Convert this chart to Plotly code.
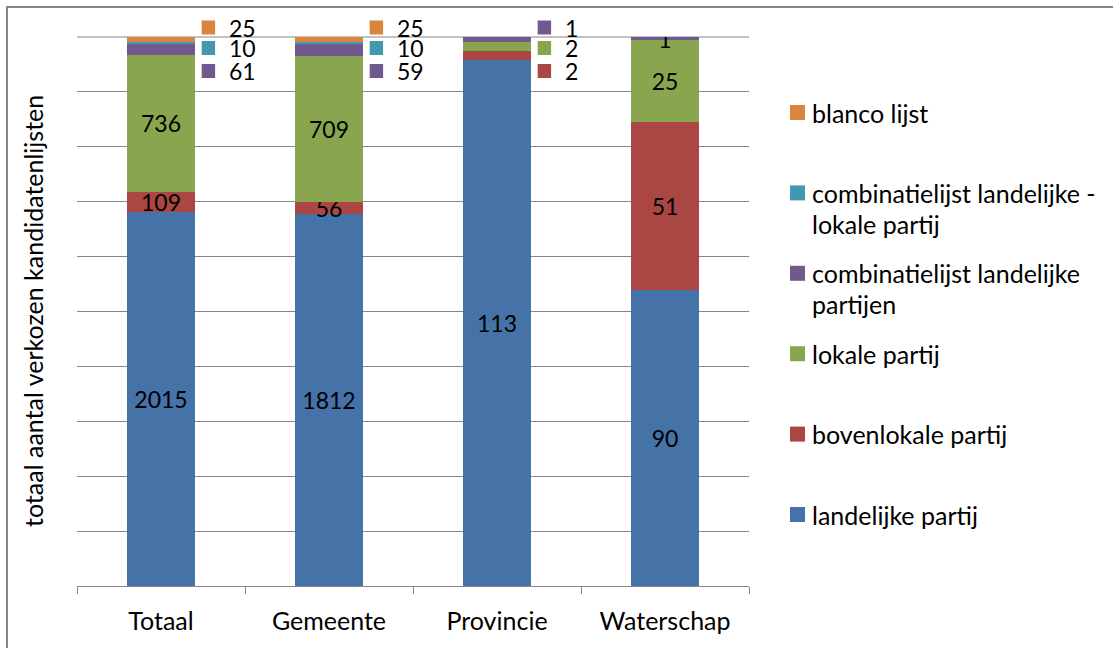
import plotly.graph_objects as go

# ---------------- data ----------------
categories = ["Totaal", "Gemeente", "Provincie", "Waterschap"]

landelijke_partij = [2015, 1812, 113, 90]
bovenlokale_partij = [109, 56, 2, 51]
lokale_partij = [736, 709, 2, 25]
combi_landelijke_partijen = [61, 59, 1, 1]
combi_landelijk_lokaal = [10, 10, 0, 0]
blanco_lijst = [25, 25, 0, 0]

series_names = [
    "landelijke partij",
    "bovenlokale partij",
    "lokale partij",
    "combinatielijst landelijke partijen",
    "combinatielijst landelijke - lokale partij",
    "blanco lijst",
]
series_values = [
    landelijke_partij,
    bovenlokale_partij,
    lokale_partij,
    combi_landelijke_partijen,
    combi_landelijk_lokaal,
    blanco_lijst,
]
legend_labels = [
    ["landelijke partij"],
    ["bovenlokale partij"],
    ["lokale partij"],
    ["combinatielijst landelijke", "partijen"],
    ["combinatielijst landelijke -", "lokale partij"],
    ["blanco lijst"],
]

# labels shown beside the bar (series index, top to bottom) per category
side_labels = {
    "Totaal": [5, 4, 3],
    "Gemeente": [5, 4, 3],
    "Provincie": [3, 2, 1],
    "Waterschap": [],
}

y_title = "totaal aantal verkozen kandidatenlijsten"

# ---------------- style ----------------
colors = ["#4572A7", "#AA4643", "#89A54E", "#71588F", "#4198AF", "#DB843D"]
FONT = "Lato"
FS_NUM = 23
FS_TXT = 25
GRID = "#868686"

W, H = 1113, 648
ML, MR, MT, MB = 77, 364, 37, 62
PW = W - ML - MR
PH = H - MT - MB


def py2paper(py):
    return (H - MB - py) / PH


def px2paper(px):
    return (px - ML) / PW


fig = go.Figure()
for si, (name, vals) in enumerate(zip(series_names, series_values)):
    texts = []
    for ci, cat in enumerate(categories):
        if si in side_labels[cat] or vals[ci] == 0:
            texts.append("")
        else:
            texts.append(str(vals[ci]))
    fig.add_trace(go.Bar(
        x=categories, y=vals, name=name,
        marker=dict(color=colors[si], line=dict(width=0)),
        text=texts, texttemplate="%{text}",
        textposition="inside", insidetextanchor="middle",
        constraintext="none", textangle=0,
        textfont=dict(family=FONT, size=FS_NUM, color="black"),
        showlegend=False, hoverinfo="skip",
    ))

annotations = []
shapes = []

# top gridline (100 %)
shapes.append(dict(type="line", xref="paper", yref="paper", x0=0, x1=1, y0=1, y1=1,
                   line=dict(color=GRID, width=1), layer="below"))

# side labels with legend keys (fixed slots above/right of the bar)
slot_py = [27.5, 48, 71]
for ci, cat in enumerate(categories):
    for k, si in enumerate(side_labels[cat]):
        cy = slot_py[k]
        shapes.append(dict(type="rect", xref="x", yref="paper",
                           x0=ci + 0.242, x1=ci + 0.322,
                           y0=py2paper(cy + 7), y1=py2paper(cy - 7),
                           fillcolor=colors[si], line=dict(width=0)))
        annotations.append(dict(x=ci + 0.39, y=py2paper(cy), xref="x", yref="paper",
                                text=str(series_values[si][ci]),
                                showarrow=False, xanchor="left", yanchor="middle",
                                font=dict(family=FONT, size=FS_NUM, color="black")))

# custom legend (top to bottom: reversed series order)
leg_y0 = 112.5
leg_step = 80.4
line_gap = 31
for row, si in enumerate(reversed(range(len(series_names)))):
    cy = leg_y0 + row * leg_step
    shapes.append(dict(type="rect", xref="paper", yref="paper",
                       x0=px2paper(790), x1=px2paper(805),
                       y0=py2paper(cy + 7.5), y1=py2paper(cy - 7.5),
                       fillcolor=colors[si], line=dict(width=0)))
    for li, line in enumerate(legend_labels[si]):
        annotations.append(dict(x=px2paper(810), y=py2paper(cy + li * line_gap),
                                xref="paper", yref="paper", text=line,
                                showarrow=False, xanchor="left", yanchor="middle",
                                font=dict(family=FONT, size=FS_TXT, color="black")))

# y axis title
annotations.append(dict(x=px2paper(33), y=py2paper(311), xref="paper", yref="paper",
                        text=y_title, textangle=-90, showarrow=False,
                        xanchor="center", yanchor="middle",
                        font=dict(family=FONT, size=FS_TXT, color="black")))

# outer border
shapes.append(dict(type="rect", xref="paper", yref="paper",
                   x0=px2paper(7), x1=px2paper(1130),
                   y0=py2paper(670), y1=py2paper(7),
                   line=dict(color=GRID, width=2), fillcolor="rgba(0,0,0,0)", layer="below"))

fig.update_layout(
    width=W, height=H,
    margin=dict(l=ML, r=MR, t=MT, b=MB, autoexpand=False),
    barmode="stack", barnorm="percent", bargap=0.6,
    plot_bgcolor="white", paper_bgcolor="white",
    font=dict(family=FONT, size=FS_TXT, color="black"),
    showlegend=False, hovermode=False,
    annotations=annotations, shapes=shapes,
    xaxis=dict(
        showline=True, linecolor=GRID, linewidth=1,
        ticks="outside", tickson="boundaries", ticklen=7, tickcolor=GRID,
        showgrid=False, tickfont=dict(family=FONT, size=FS_TXT, color="black"),
        ticklabelstandoff=13,
    ),
    yaxis=dict(
        range=[0, 100], dtick=10, showticklabels=False,
        showgrid=True, gridcolor=GRID, gridwidth=1,
        zeroline=False, showline=False, ticks="",
    ),
)

fig.write_html("out.html", config={"displayModeBar": False},
               post_script="document.body.style.margin='0';")
